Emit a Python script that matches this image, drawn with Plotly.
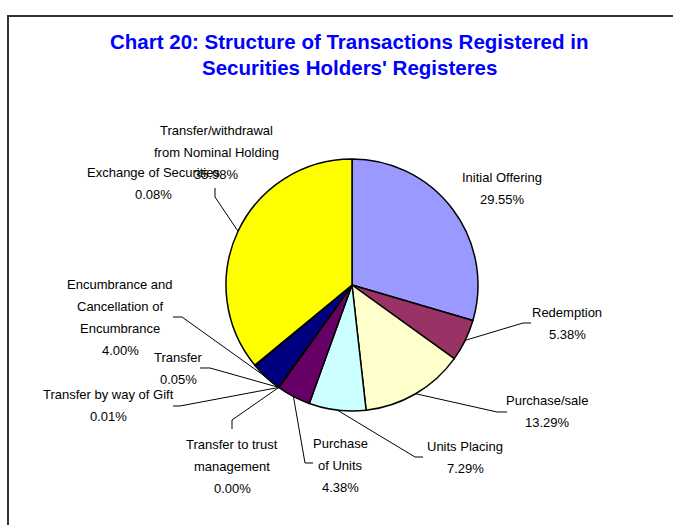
import math
import plotly.graph_objects as go

# ---- data ----
categories = [
    "Initial Offering",
    "Redemption",
    "Purchase/sale",
    "Units Placing",
    "Purchase of Units",
    "Transfer to trust management",
    "Transfer by way of Gift",
    "Transfer",
    "Encumbrance and Cancellation of Encumbrance",
    "Exchange of Securities",
    "Transfer/withdrawal from Nominal Holding",
]
shares = [29.55, 5.38, 13.29, 7.29, 4.38, 0.00, 0.01, 0.05, 4.00, 0.08, 35.98]
label_lines = [
    ["Initial Offering"],
    ["Redemption"],
    ["Purchase/sale"],
    ["Units Placing"],
    ["Purchase", "of Units"],
    ["Transfer to trust", "management"],
    ["Transfer by way of Gift"],
    ["Transfer"],
    ["Encumbrance and", "Cancellation of", "Encumbrance"],
    ["Exchange of Securities"],
    ["Transfer/withdrawal", "from Nominal Holding"],
]
title_lines = ["Chart 20: Structure of Transactions Registered in",
               "Securities Holders' Registeres"]

# ---- style / layout ----
colors = ["#9999FF", "#993366", "#FFFFCC", "#CCFFFF", "#660066", "#FF8080",
          "#0066CC", "#CCCCFF", "#000080", "#FF00FF", "#FFFF00"]
W, H = 673, 525
CX, CY, R = 352, 285, 126          # pie centre and radius in pixels
LINE_GAP = 22
FONT = "Liberation Sans, Arial, sans-serif"
# label anchor (centre x, first line y) and leader-line elbow points, in pixels
label_pos = [
    (502, 177), (567, 312), (547, 400), (465, 446), (340, 443), (232, 444),
    (108, 394), (178, 357), (120, 284), (153, 172), (216, 131),
]
leader_elbows = [
    None,
    [(523, 323), (531, 323)],
    [(497, 412), (507, 412)],
    [(415, 457), (423, 457)],
    [(305, 463), (313, 463)],
    [(232, 420), (232, 429)],
    [(180, 406), (173, 406)],
    [(210, 368), (200, 368)],
    [(182, 317), (173, 317)],
    None,
    [(215, 197), (215, 188)],
]


def px(x):
    return x / W


def py(y):
    return 1 - y / H


fig = go.Figure(go.Pie(
    labels=categories,
    values=shares,
    sort=False,
    direction="clockwise",
    rotation=0,
    marker=dict(colors=colors, line=dict(color="black", width=1.5)),
    textinfo="none",
    hoverinfo="label+percent",
    domain=dict(x=[px(CX - R), px(CX + R)], y=[py(CY + R), py(CY - R)]),
    showlegend=False,
))

annotations = []
shapes = []

total = sum(shares)
cum = 0.0
for i, v in enumerate(shares):
    mid = (cum + v / 2) / total
    cum += v
    ang = 2 * math.pi * mid
    sx = CX + R * math.sin(ang)
    sy = CY - R * math.cos(ang)
    lx, ly = label_pos[i]
    lines = label_lines[i] + [f"{v:.2f}%"]
    for k, t in enumerate(lines):
        annotations.append(dict(
            x=px(lx), y=py(ly + k * LINE_GAP), xref="paper", yref="paper",
            text=t, showarrow=False, xanchor="center", yanchor="middle",
            font=dict(family=FONT, size=13, color="black"),
        ))
    if leader_elbows[i]:
        pts = [(sx, sy)] + leader_elbows[i]
        path = "M " + " L ".join(f"{px(a):.5f},{py(b):.5f}" for a, b in pts)
        shapes.append(dict(type="path", xref="paper", yref="paper", path=path,
                           line=dict(color="black", width=1)))

for k, t in enumerate(title_lines):
    annotations.append(dict(
        x=px(349), y=py(42 + k * 25), xref="paper", yref="paper",
        text=f"<b>{t}</b>", showarrow=False, xanchor="center", yanchor="middle",
        font=dict(family=FONT, size=20.5, color="#0000FF"),
    ))

# chart-area border (left and top edges visible)
shapes.append(dict(type="path", xref="paper", yref="paper",
                   path=f"M {px(8)},-0.05 L {px(8)},{py(16)} L 1.05,{py(16)}",
                   line=dict(color="#333333", width=2)))

fig.update_layout(
    width=W, height=H,
    margin=dict(l=0, r=0, t=0, b=0),
    paper_bgcolor="white", plot_bgcolor="white",
    annotations=annotations, shapes=shapes,
)

fig.write_html(
    "out.html",
    config={"displayModeBar": False},
    post_script="document.body.style.margin='0';document.body.style.overflow='hidden';",
)
